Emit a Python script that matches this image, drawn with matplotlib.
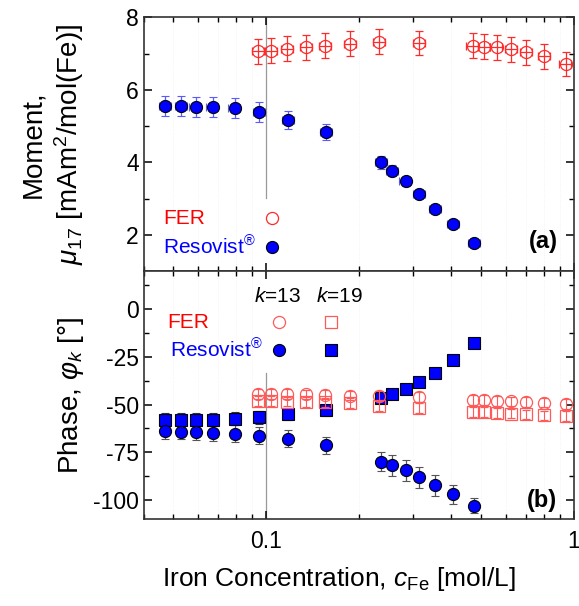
import matplotlib
matplotlib.use("Agg")
import matplotlib.pyplot as plt
from matplotlib.ticker import MultipleLocator, LogLocator, NullFormatter, FixedLocator, FixedFormatter

plt.rcParams['font.family'] = ['Liberation Sans', 'DejaVu Sans']
plt.rcParams['mathtext.fontset'] = 'custom'
plt.rcParams['mathtext.rm'] = 'Liberation Sans'
plt.rcParams['mathtext.it'] = 'Liberation Sans:italic'
plt.rcParams['mathtext.bf'] = 'Liberation Sans:bold'
plt.rcParams['axes.unicode_minus'] = False

# iron concentration [mol/L]
c_res = [0.047, 0.053, 0.059, 0.067, 0.079, 0.095, 0.118, 0.157,
         0.236, 0.257, 0.284, 0.314, 0.354, 0.406, 0.473]
c_fer = [0.094, 0.104, 0.117, 0.135, 0.156, 0.187, 0.233, 0.314,
         0.469, 0.510, 0.561, 0.625, 0.699, 0.801, 0.940]

# moment mu_17 [mAm^2/mol(Fe)]
mom_res = [5.56, 5.56, 5.53, 5.53, 5.50, 5.39, 5.17, 4.83,
           4.00, 3.77, 3.48, 3.12, 2.72, 2.30, 1.77]
mom_res_err = [0.27, 0.27, 0.27, 0.27, 0.27, 0.27, 0.25, 0.22,
               0.18, 0.15, 0.12, 0.10, 0.08, 0.07, 0.06]
mom_fer = [7.06, 7.08, 7.13, 7.17, 7.22, 7.27, 7.33, 7.29,
           7.22, 7.19, 7.17, 7.12, 7.03, 6.92, 6.71]
mom_fer_err = [0.34] * 15

# phase [deg]
ph_res13 = [-64.0, -64.2, -64.5, -64.9, -65.2, -66.3, -68.0, -71.3,
            -80.0, -81.9, -84.5, -88.0, -92.3, -97.0, -103.0]
ph_res13_err = [4, 4, 4, 4, 4.5, 4.5, 4.5, 4.5, 5, 5.5, 5.5, 5.5, 5.5, 5, 4]
ph_res19 = [-58.1, -58.1, -57.9, -57.9, -57.4, -56.7, -55.2, -53.1,
            -46.3, -44.3, -41.7, -38.1, -33.4, -26.8, -17.7]
ph_res19_err = [3.5, 3.5, 3.5, 3.5, 3.5, 3.5, 3, 3, 2, 1.5, 1.5, 1.5, 1.5, 1.5, 1.5]
ph_fer13 = [-44.4, -44.4, -44.4, -44.6, -44.8, -45.3, -45.5, -46.0,
            -47.5, -47.7, -48.0, -48.3, -48.7, -49.0, -49.8]
ph_fer19 = [-48.2, -48.2, -48.4, -48.6, -48.8, -49.2, -50.8, -51.7,
            -53.8, -54.0, -54.4, -54.7, -55.2, -55.7, -56.0]
ph_fer_err = [2.5] * 15

BLUE = '#0000ff'
RED = '#ff2a2a'
RED_B = '#ff5a5a'
MS_O = 8.7
MS_S = 8.0
FS_TXT = 15

fig, (ax1, ax2) = plt.subplots(2, 1, figsize=(5.79, 6.06), dpi=100, sharex=True,
                               gridspec_kw={'height_ratios': [254, 248], 'hspace': 0})
fig.subplots_adjust(left=0.248, right=0.991, top=0.9715, bottom=0.1436)

xe_res = [c * 0.045 for c in c_res]
xe_fer = [c * 0.045 for c in c_fer]

# (a) moment
ax1.errorbar(c_fer, mom_fer, yerr=mom_fer_err, xerr=xe_fer, fmt='o', ms=MS_O,
             mfc='none', mec=RED, mew=0.9, ecolor=RED, elinewidth=0.9, capsize=3, zorder=3)
ax1.errorbar(c_res, mom_res, yerr=mom_res_err, xerr=xe_res, fmt='o', ms=MS_O,
             mfc=BLUE, mec='black', mew=0.8, ecolor='#5a5aff', elinewidth=0.9, capsize=3, zorder=3)
ax1.axvline(0.1, ymin=0.29, ymax=1, color='#999999', lw=0.9, zorder=1)
ax1.set_ylim(1, 8)
ax1.yaxis.set_major_locator(MultipleLocator(2))
ax1.yaxis.set_minor_locator(MultipleLocator(1))
ax1.set_ylabel('Moment,\n$\\mu_{17}$ [mAm$^2$/mol(Fe)]', fontsize=20, linespacing=1.2)
ax1.yaxis.set_label_coords(-0.135, 0.5)

ax1.text(0.045, 0.209, 'FER', color='red', fontsize=FS_TXT, va='center', transform=ax1.transAxes)
ax1.text(0.045, 0.094, 'Resovist$^{®}$', color=BLUE, fontsize=FS_TXT, va='center', transform=ax1.transAxes)
ax1.plot([0.298], [0.209], 'o', ms=MS_O, mfc='none', mec=RED, mew=0.9, transform=ax1.transAxes)
ax1.plot([0.298], [0.094], 'o', ms=MS_O, mfc=BLUE, mec='black', mew=0.8, transform=ax1.transAxes)
ax1.text(0.962, 0.118, '(a)', fontsize=17, fontweight='bold', ha='right', va='center',
         transform=ax1.transAxes)

# (b) phase
ax2.errorbar(c_res, ph_res19, yerr=ph_res19_err, fmt='s', ms=MS_S,
             mfc=BLUE, mec='black', mew=0.8, ecolor='#333333', elinewidth=0.9, capsize=3, zorder=2)
ax2.errorbar(c_res, ph_res13, yerr=ph_res13_err, fmt='o', ms=MS_O,
             mfc=BLUE, mec='black', mew=0.8, ecolor='#555555', elinewidth=0.9, capsize=3, zorder=2)
ax2.errorbar(c_fer, ph_fer19, yerr=ph_fer_err, fmt='s', ms=MS_S,
             mfc='none', mec=RED_B, mew=0.9, ecolor=RED_B, elinewidth=0.8, capsize=3, zorder=3)
ax2.errorbar(c_fer, ph_fer13, yerr=ph_fer_err, fmt='o', ms=MS_O,
             mfc='none', mec=RED_B, mew=0.9, ecolor=RED_B, elinewidth=0.8, capsize=3, zorder=3)
ax2.axvline(0.1, ymin=0, ymax=0.589, color='#999999', lw=0.9, zorder=1)
ax2.set_ylim(-110, 20)
ax2.yaxis.set_major_locator(MultipleLocator(25))
ax2.yaxis.set_minor_locator(MultipleLocator(12.5))
ax2.set_ylabel('Phase, $\\varphi_k$ [°]', fontsize=20)
ax2.yaxis.set_label_coords(-0.135, 0.5)
ax2.set_xlabel('Iron Concentration, $c_{\\rm Fe}$ [mol/L]', fontsize=19)
ax2.xaxis.set_label_coords(0.454, -0.185)

ax2.text(0.311, 0.899, '$k$=13', fontsize=FS_TXT, ha='center', va='center', transform=ax2.transAxes)
ax2.text(0.456, 0.899, '$k$=19', fontsize=FS_TXT, ha='center', va='center', transform=ax2.transAxes)
ax2.text(0.056, 0.794, 'FER', color='red', fontsize=FS_TXT, va='center', transform=ax2.transAxes)
ax2.text(0.061, 0.681, 'Resovist$^{®}$', color=BLUE, fontsize=FS_TXT, va='center', transform=ax2.transAxes)
ax2.plot([0.314], [0.794], 'o', ms=MS_O, mfc='none', mec=RED_B, mew=0.9, transform=ax2.transAxes)
ax2.plot([0.435], [0.794], 's', ms=MS_S, mfc='none', mec=RED_B, mew=0.9, transform=ax2.transAxes)
ax2.plot([0.314], [0.681], 'o', ms=MS_O, mfc=BLUE, mec='black', mew=0.8, transform=ax2.transAxes)
ax2.plot([0.435], [0.681], 's', ms=MS_S, mfc=BLUE, mec='black', mew=0.8, transform=ax2.transAxes)
ax2.text(0.962, 0.073, '(b)', fontsize=17, fontweight='bold', ha='right', va='center',
         transform=ax2.transAxes)

ax2.set_xscale('log')
ax2.set_xlim(0.04, 1)
ax2.xaxis.set_major_locator(FixedLocator([0.1, 1]))
ax2.xaxis.set_major_formatter(FixedFormatter(['0.1', '1']))
ax2.xaxis.set_minor_locator(LogLocator(base=10, subs=[2, 3, 4, 5, 6, 7, 8, 9]))
ax2.xaxis.set_minor_formatter(NullFormatter())

for ax in (ax1, ax2):
    ax.tick_params(which='both', direction='in', top=True, right=True, labelsize=16.5)
    ax.tick_params(which='major', length=6, width=1.1)
    ax.tick_params(which='minor', length=3.5, width=1.0)
    ax.grid(which='minor', axis='x', ls=':', color='#f0f0f0', lw=0.6)
    for s in ax.spines.values():
        s.set_linewidth(1.2)
        s.set_color('#333333')
ax1.tick_params(labelbottom=False)
ax2.tick_params(axis='x', pad=8)

plt.savefig('out.png', dpi=100)
